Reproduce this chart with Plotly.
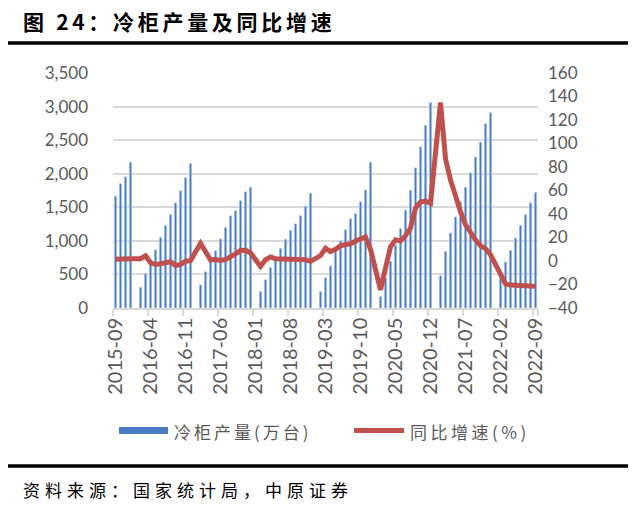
import plotly.graph_objects as go
import pandas as pd

months = [str(p) for p in pd.period_range("2015-09", "2022-09", freq="M")]

production = [
    1666, 1853, 1956, 2174,
    None, 310, 513, 696, 870, 1054, 1230, 1393, 1567, 1747, 1943, 2154,
    None, 346, 542, 711, 855, 1030, 1203, 1375, 1453, 1602, 1732, 1800,
    None, 248, 423, 605, 755, 890, 1025, 1157, 1257, 1378, 1517, 1712,
    None, 248, 452, 627, 840, 1000, 1169, 1331, 1408, 1585, 1759, 2174,
    None, 173, 450, 696, 940, 1184, 1460, 1756, 2090, 2404, 2722, 3061,
    None, 482, 845, 1120, 1358, 1582, 1801, 2015, 2249, 2472, 2747, 2911,
    None, 447, 687, 860, 1045, 1233, 1393, 1567, 1722,
]

yoy = [
    1.5, 2, 2, 2,
    None, 2, 4.5, -1.5, -3, -2.3, -1, -0.6, -3.8, -3, -0.2, 0.3,
    None, 15, 7, 1, 1.3, 0.5, 1.2, 3.2, 6, 9, 9.2, 7,
    None, -4.6, 1.1, 3.5, 2, 1.7, 1.7, 1.7, 1.7, 1.5, 1, -0.3,
    None, 4.5, 10.8, 8, 10, 13, 14, 14.6, 17, 19, 20.4, 10,
    None, -24.5, -6, 12, 18, 17, 21.5, 28, 45, 50.2, 51, 49,
    None, 135, 87, 69, 54, 42, 31, 24, 18, 13, 10.5, 5.5,
    None, -12.5, -19.5, -20.5, -20.5, -20.5, -20.5, -21, -21.5,
]

tick_labels = months[::7]

bar_name = "冷柜产量(万台)"
line_name = "同比增速(%)"
title_text = "图 24：冷柜产量及同比增速"
source_text = "资料来源：国家统计局，中原证券"

W, H = 641, 510
L, R, T, B = 113, 538, 73, 308


def px(x):
    return (x - L) / (R - L)


def py(y):
    return (B - y) / (B - T)


GRAY = "#595959"
GRID = "#D9D9D9"
BLUE = "#4A7BC4"
RED = "#C0504D"
CJK = "Noto Sans CJK SC"

fig = go.Figure()
fig.add_trace(go.Bar(x=months, y=production, name=bar_name, marker_color=BLUE,
                     yaxis="y", showlegend=False))
fig.add_trace(go.Scatter(x=months, y=yoy, name=line_name, mode="lines",
                         line=dict(color=RED, width=5), connectgaps=True,
                         yaxis="y2", showlegend=False))

fig.update_layout(
    width=W, height=H, autosize=False,
    margin=dict(l=L, r=W - R, t=T, b=H - B, pad=0),
    paper_bgcolor="white", plot_bgcolor="white",
    bargap=0.5,
    font=dict(family="Lato, Liberation Sans, sans-serif", color=GRAY),
    xaxis=dict(type="category", categoryorder="array", categoryarray=months,
               range=[-0.5, len(months) - 0.5],
               tickmode="array", tickvals=tick_labels, ticktext=tick_labels,
               tickson="boundaries",
               tickangle=-90, tickfont=dict(size=20, color=GRAY),
               showline=True, linecolor=GRID, linewidth=1.5,
               ticks="outside", tickcolor=GRID, ticklen=6, tickwidth=1.5,
               showgrid=False, zeroline=False),
    yaxis=dict(range=[0, 3500], dtick=500, tickformat=",",
               tickfont=dict(size=17, color=GRAY),
               showgrid=True, gridcolor=GRID, gridwidth=1.5,
               zeroline=False, showline=False, ticks="", ticklabelstandoff=24),
    yaxis2=dict(range=[-40, 160], dtick=20, overlaying="y", side="right",
                tickfont=dict(size=17, color=GRAY),
                showgrid=False, zeroline=False, showline=False, ticks="",
                ticklabelstandoff=9),
)

shapes = [
    dict(type="line", xref="paper", yref="paper", x0=px(8), x1=px(628),
         y0=py(43), y1=py(43), line=dict(color="black", width=3.5)),
    dict(type="line", xref="paper", yref="paper", x0=px(8), x1=px(628),
         y0=py(466), y1=py(466), line=dict(color="black", width=3.5)),
    dict(type="rect", xref="paper", yref="paper", x0=px(119), x1=px(168),
         y0=py(434), y1=py(427), fillcolor=BLUE, line=dict(width=0)),
    dict(type="line", xref="paper", yref="paper", x0=px(354), x1=px(404),
         y0=py(430.5), y1=py(430.5), line=dict(color=RED, width=5)),
]
fig.update_layout(shapes=shapes)

annotations = [
    dict(xref="paper", yref="paper", x=px(21), y=py(21), xanchor="left", yanchor="middle",
         text="<b><span style='letter-spacing:3.7px'>" + title_text + "</span></b>",
         showarrow=False, font=dict(family=CJK, size=21, color="black")),
    dict(xref="paper", yref="paper", x=px(172), y=py(431), xanchor="left", yanchor="middle",
         text="<span style='letter-spacing:3px'>" + bar_name + "</span>",
         showarrow=False, font=dict(family=CJK, size=17, color=GRAY)),
    dict(xref="paper", yref="paper", x=px(408), y=py(431), xanchor="left", yanchor="middle",
         text="<span style='letter-spacing:3.5px'>" + line_name + "</span>",
         showarrow=False, font=dict(family=CJK, size=17, color=GRAY)),
    dict(xref="paper", yref="paper", x=px(21), y=py(489), xanchor="left", yanchor="middle",
         text="<span style='letter-spacing:5px'>" + source_text + "</span>",
         showarrow=False, font=dict(family=CJK, size=17, color="black")),
]
fig.update_layout(annotations=annotations)

fig.write_html("out.html", config={"displayModeBar": False},
               post_script="document.body.style.margin='0';")
